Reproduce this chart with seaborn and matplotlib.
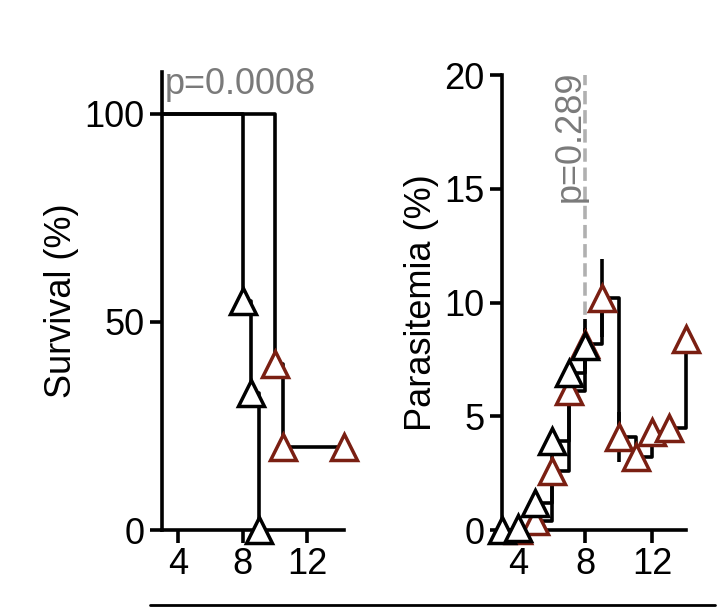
import matplotlib

matplotlib.use("Agg")
import matplotlib.pyplot as plt
import pandas as pd
import seaborn as sns

# survival (left panel)
surv_days_black = [3, 8, 8.5, 9]
surv_black = [100, 55, 33, 0]
surv_days_red = [3, 10, 10.5, 14.3]
surv_red = [100, 40, 20, 20]

# parasitemia (right panel)
para_days_black = [3, 4, 5, 6, 7, 8]
para_black = [0, 0.1, 1.2, 3.9, 6.9, 8.1]
para_err_black = [0, 0, 0.3, 0.4, 0.4, 0.8]
para_days_red = [4, 5, 6, 7, 8, 9, 10, 11, 12, 13, 14]
para_red = [0, 0.4, 2.6, 6.1, 8.2, 10.2, 4.1, 3.2, 4.3, 4.5, 8.4]
para_err_red = [0, 0.1, 0.4, 0.4, 1.1, 1.7, 1.1, 0.3, 0.3, 0.2, 0.2]

RED = "#7a1f12"
GRAY = "#7a7a7a"
FS = 26

sns.set_theme(style="ticks")
plt.rcParams["font.family"] = ["Liberation Sans", "DejaVu Sans"]

fig = plt.figure(figsize=(7.25, 6.15), dpi=100)
ax1 = fig.add_axes([0.223, 0.138, 0.252, 0.745])
ax2 = fig.add_axes([0.692, 0.138, 0.254, 0.740])

mk = dict(marker="^", markersize=19, markerfacecolor="white", markeredgewidth=2.5)
LW = 2.6

# left: survival
surv_b = pd.DataFrame({"day": surv_days_black, "val": surv_black})
surv_r = pd.DataFrame({"day": surv_days_red, "val": surv_red})
ax1.plot(surv_r["day"], surv_r["val"], drawstyle="steps-post", color="black", lw=LW, zorder=2)
ax1.plot(surv_b["day"], surv_b["val"], drawstyle="steps-post", color="black", lw=LW, zorder=2)
ax1.plot(surv_r["day"][1:], surv_r["val"][1:], ls="none", markeredgecolor=RED, zorder=3, **mk)
ax1.plot(surv_b["day"][1:], surv_b["val"][1:], ls="none", markeredgecolor="black", zorder=3, **mk)
ax1.set_xlim(3, 14.3)
ax1.set_ylim(0, 110)
ax1.set_xticks([4, 8, 12])
ax1.set_yticks([0, 50, 100])
ax1.set_ylabel("Survival (%)", fontsize=FS, color="black")
ax1.text(3.2, 107, "p=0.0008", fontsize=FS, color=GRAY, va="center")

# right: parasitemia
ax2.plot(para_days_red, para_red, drawstyle="steps-post", color="black", lw=LW, zorder=2)
ax2.plot(para_days_black, para_black, drawstyle="steps-post", color="black", lw=LW, zorder=2)
ax2.errorbar(para_days_red, para_red, yerr=para_err_red, fmt="none", ecolor="black", elinewidth=LW, zorder=2)
ax2.errorbar(para_days_black, para_black, yerr=para_err_black, fmt="none", ecolor="black", elinewidth=LW, zorder=2)
ax2.plot(para_days_red, para_red, ls="none", markeredgecolor=RED, zorder=3, **mk)
ax2.plot(para_days_black, para_black, ls="none", markeredgecolor="black", zorder=3, **mk)
ax2.plot([8, 8], [8.6, 20], ls="--", color="#b0b0b0", lw=LW, zorder=1)
ax2.text(7.1, 20.2, "p=0.289", rotation=90, fontsize=FS, color=GRAY, ha="center", va="top")
ax2.set_xlim(3, 14)
ax2.set_ylim(0, 20)
ax2.set_xticks([4, 8, 12])
ax2.set_yticks([0, 5, 10, 15, 20])
ax2.set_ylabel("Parasitemia (%)", fontsize=FS, color="black")

for ax in (ax1, ax2):
    sns.despine(ax=ax)
    ax.tick_params(labelsize=FS, width=LW, length=9, colors="black")
    for s in ("left", "bottom"):
        ax.spines[s].set_linewidth(LW)
        ax.spines[s].set_color("black")
    for art in ax.lines:
        art.set_clip_on(False)

fig.add_artist(plt.Line2D([0.207, 0.986], [0.016, 0.016], color="black", lw=2))

fig.savefig("out.png", dpi=100, facecolor="white")
